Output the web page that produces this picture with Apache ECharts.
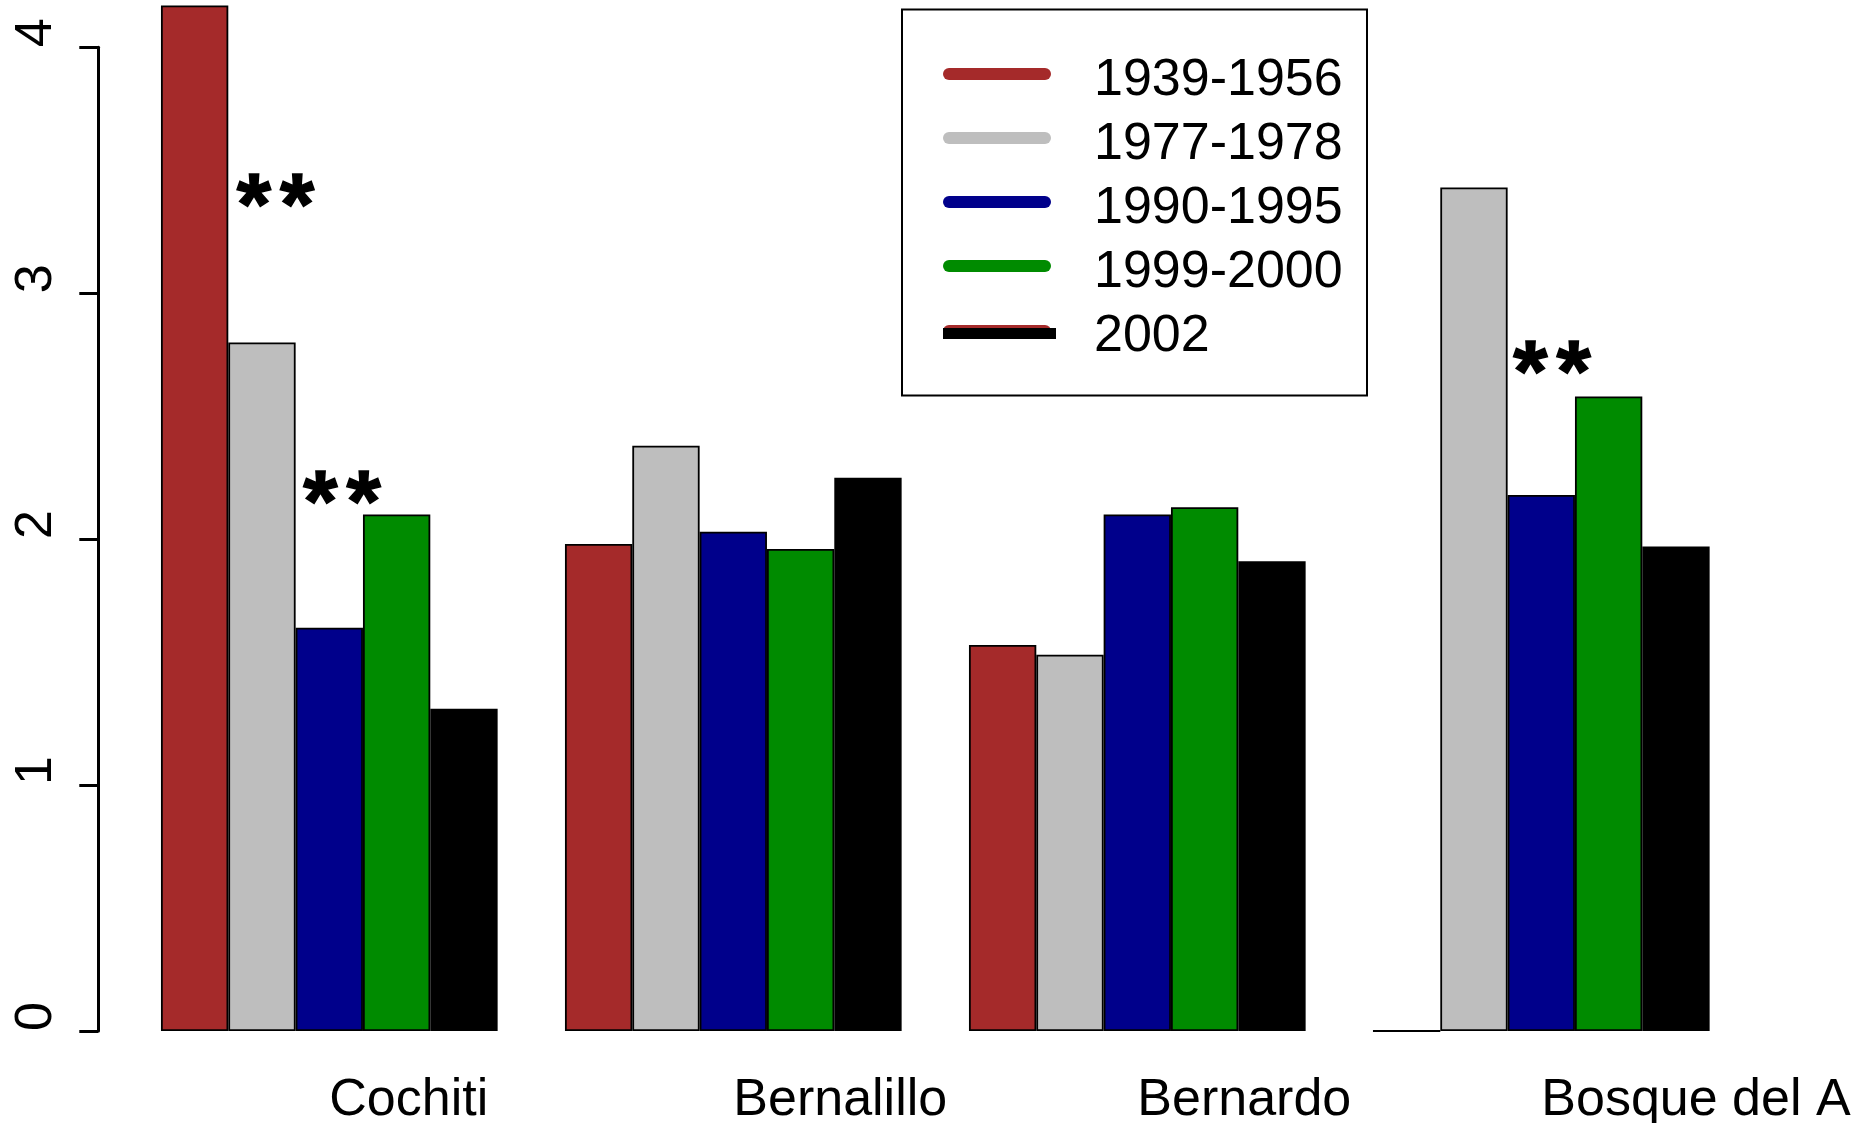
<!DOCTYPE html>
<html>
<head>
<meta charset="utf-8">
<script src="https://cdn.jsdelivr.net/npm/echarts@6/dist/echarts.min.js"></script>
<style>
  html, body { margin: 0; padding: 0; background: #ffffff; }
  #chart { width: 1856px; height: 1123px; }
</style>
</head>
<body>
<div id="chart"></div>
<script>
// Sites along the river and the survey periods compared at each one
const sites = ['Cochiti', 'Bernalillo', 'Bernardo', 'Bosque del A'];
const periods = ['1939-1956', '1977-1978', '1990-1995', '1999-2000', '2002'];

// One value per site for each survey period
const v1939_1956 = [4.17, 1.98, 1.57, 0.00];
const v1977_1978 = [2.80, 2.38, 1.53, 3.43];
const v1990_1995 = [1.64, 2.03, 2.10, 2.18];
const v1999_2000 = [2.10, 1.96, 2.13, 2.58];
const v2002      = [1.31, 2.25, 1.91, 1.97];

const yTicks = [0, 1, 2, 3, 4];

// Significance markers: site index, place inside the site's group (in bar widths), value height
const sigSite   = [0, 0, 3];
const sigOffset = [2.20, 3.19, 3.16];
const sigValue  = [3.43, 2.22, 2.75];

const seriesValues = [v1939_1956, v1977_1978, v1990_1995, v1999_2000, v2002];
const colors = ['#A52A2A', '#BEBEBE', '#00008B', '#008B00', '#000000'];

const FONT = '"Liberation Sans", Arial, Helvetica, sans-serif';
const barsPerGroup = periods.length + 1; // five bars plus one bar-wide gap

const chart = echarts.init(document.getElementById('chart'), null, { renderer: 'canvas' });

const barSeries = periods.map((name, i) => ({
  name: name,
  type: 'bar',
  xAxisIndex: 0,
  yAxisIndex: 0,
  data: seriesValues[i],
  barGap: '0%',
  barCategoryGap: (100 / barsPerGroup) + '%',
  clip: false,
  itemStyle: { color: colors[i], borderColor: '#000000', borderWidth: 1.8 },
  emphasis: { disabled: true },
  animation: false
}));

// "**" drawn as two heavy asterisks with a small gap between them
const starStyle = {
  fontFamily: FONT, fontSize: 88, fontWeight: 'bold', color: '#000000',
  textBorderColor: '#000000', textBorderWidth: 1.5
};
const sigSeries = {
  type: 'scatter',
  xAxisIndex: 1,
  yAxisIndex: 0,
  symbolSize: 0,
  itemStyle: { color: '#000000', opacity: 1 },
  data: sigSite.map((s, i) => [s * barsPerGroup + sigOffset[i], sigValue[i]]),
  label: {
    show: true,
    position: 'inside',
    color: '#000000',
    opacity: 1,
    formatter: () => '{a|*}{b|*}',
    rich: {
      a: Object.assign({}, starStyle),
      b: Object.assign({ padding: [0, 0, 0, 9] }, starStyle)
    },
    offset: [0, 22]
  },
  emphasis: { disabled: true },
  animation: false
};

// Legend box drawn as graphics, built from the period names and colours
const legendLeft = 902, legendTop = 9.5, rowStart = 74, rowStep = 64;
const legendGraphics = [{
  type: 'rect',
  shape: { x: legendLeft, y: legendTop, width: 465, height: 386 },
  style: { fill: 'none', stroke: '#000000', lineWidth: 2 },
  silent: true
}];
periods.forEach((name, i) => {
  const y = rowStart + i * rowStep;
  if (i === periods.length - 1) {
    // last key: a brown stroke peeking out from under the black one
    legendGraphics.push({
      type: 'line',
      shape: { x1: 949, y1: y + 1, x2: 1045, y2: y + 1 },
      style: { stroke: colors[0], lineWidth: 12, lineCap: 'round' },
      silent: true
    });
    legendGraphics.push({
      type: 'line',
      shape: { x1: 943, y1: y + 3.5, x2: 1056, y2: y + 3.5 },
      style: { stroke: colors[i], lineWidth: 11, lineCap: 'butt' },
      silent: true
    });
  } else {
    legendGraphics.push({
      type: 'line',
      shape: { x1: 949, y1: y, x2: 1045, y2: y },
      style: { stroke: colors[i], lineWidth: 12, lineCap: 'round' },
      silent: true
    });
  }
  legendGraphics.push({
    type: 'text',
    style: {
      text: name, x: 1094, y: y + 6.5,
      fontFamily: FONT, fontSize: 52, fill: '#000000',
      align: 'left', verticalAlign: 'middle'
    },
    silent: true
  });
});

chart.setOption({
  backgroundColor: '#ffffff',
  animation: false,
  grid: {
    left: 127.3, right: 112.7, top: 47.3, bottom: 92,
    containLabel: false,
    outerBoundsMode: 'none'
  },
  xAxis: [{
    type: 'category',
    data: sites,
    axisLine: { show: false },
    axisTick: { show: false },
    splitLine: { show: false },
    axisLabel: {
      interval: 0,
      align: 'left',
      margin: 44,
      fontFamily: FONT,
      fontSize: 52,
      color: '#000000'
    }
  }, {
    type: 'value',
    min: 0,
    max: sites.length * barsPerGroup,
    show: false
  }],
  yAxis: [{
    type: 'value',
    min: yTicks[0],
    max: yTicks[yTicks.length - 1],
    interval: 1,
    offset: 29,
    splitLine: { show: false },
    axisLine: { show: true, onZero: false, lineStyle: { color: '#000000', width: 3 } },
    axisTick: { show: true, inside: false, length: 19, lineStyle: { color: '#000000', width: 3 } },
    axisLabel: {
      rotate: 90,
      margin: 36,
      padding: [0, 0, 0, 29],
      fontFamily: FONT,
      fontSize: 52,
      color: '#000000'
    }
  }],
  series: barSeries.concat([sigSeries]),
  graphic: legendGraphics
});
</script>
</body>
</html>
